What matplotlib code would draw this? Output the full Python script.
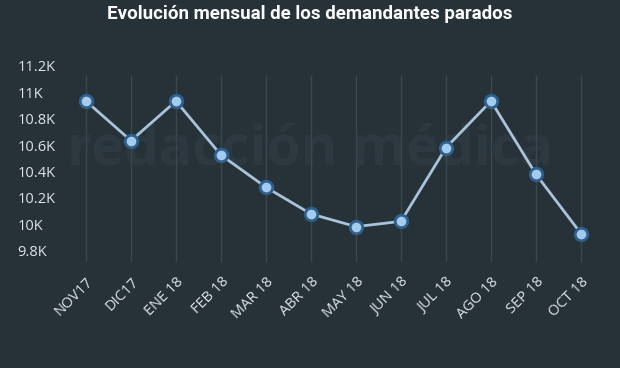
import matplotlib
matplotlib.use("Agg")
import matplotlib.pyplot as plt

# datos (estimados del gráfico)
meses = ["NOV17", "DIC17", "ENE 18", "FEB 18", "MAR 18", "ABR 18",
         "MAY 18", "JUN 18", "JUL 18", "AGO 18", "SEP 18", "OCT 18"]
parados = [10934, 10634, 10934, 10525, 10281, 10079,
           9983, 10023, 10581, 10934, 10379, 9930]
yticks = [9800, 10000, 10200, 10400, 10600, 10800, 11000, 11200]
ylabels = ["9.8K", "10K", "10.2K", "10.4K", "10.6K", "10.8K", "11K", "11.2K"]

bg = "#263238"
txt = "#dde3e8"

ymin, ymax = 9715, 11220
px = 26.4 / 200  # pixeles por unidad
alto = (ymax - ymin) * px

fig = plt.figure(figsize=(6.2, 3.68), dpi=100, facecolor=bg)
ax = fig.add_axes([63.5 / 620, 1 - 262 / 368, 540 / 620, alto / 368])
ax.set_facecolor(bg)

x = list(range(len(meses)))

# marca de agua
ax.text(0.5, 1 - 150 / 368, "redacción médica", ha="center", va="center",
        fontsize=40, fontweight="bold", family="Open Sans",
        color="#2c3940", zorder=0, transform=fig.transFigure)

# rejilla vertical
ax.vlines(x, ymin, 11131, color="#3a474f", lw=1, zorder=1)

ax.plot(x, parados, color="#a8c3da", lw=2, zorder=3, clip_on=False)
ax.plot(x, parados, "o", ms=9, mfc="#a3cbee", mec="#2f5f8c", mew=2,
        zorder=4, clip_on=False)

for s in ax.spines.values():
    s.set_visible(False)

ax.set_yticks(yticks)
ax.set_yticklabels(ylabels, fontsize=10.5, color=txt, family="Open Sans")
ax.tick_params(axis="y", length=0, pad=33)
for lab in ax.get_yticklabels():
    lab.set_ha("left")

ax.set_xticks(x)
ax.set_xticklabels(meses, rotation=45, ha="right", rotation_mode="anchor",
                   fontsize=10.5, color=txt, family="Open Sans")
ax.tick_params(axis="x", length=0, pad=9)

ax.set_xlim(-0.5, len(meses) - 0.5)
ax.set_ylim(ymin, ymax)

fig.text(0.5, 1 - 14 / 368, "Evolución mensual de los demandantes parados",
         ha="center", va="center", fontsize=13.5, fontweight="bold",
         family="Roboto", color="#ffffff")

fig.savefig("out.png", dpi=100, facecolor=bg)
